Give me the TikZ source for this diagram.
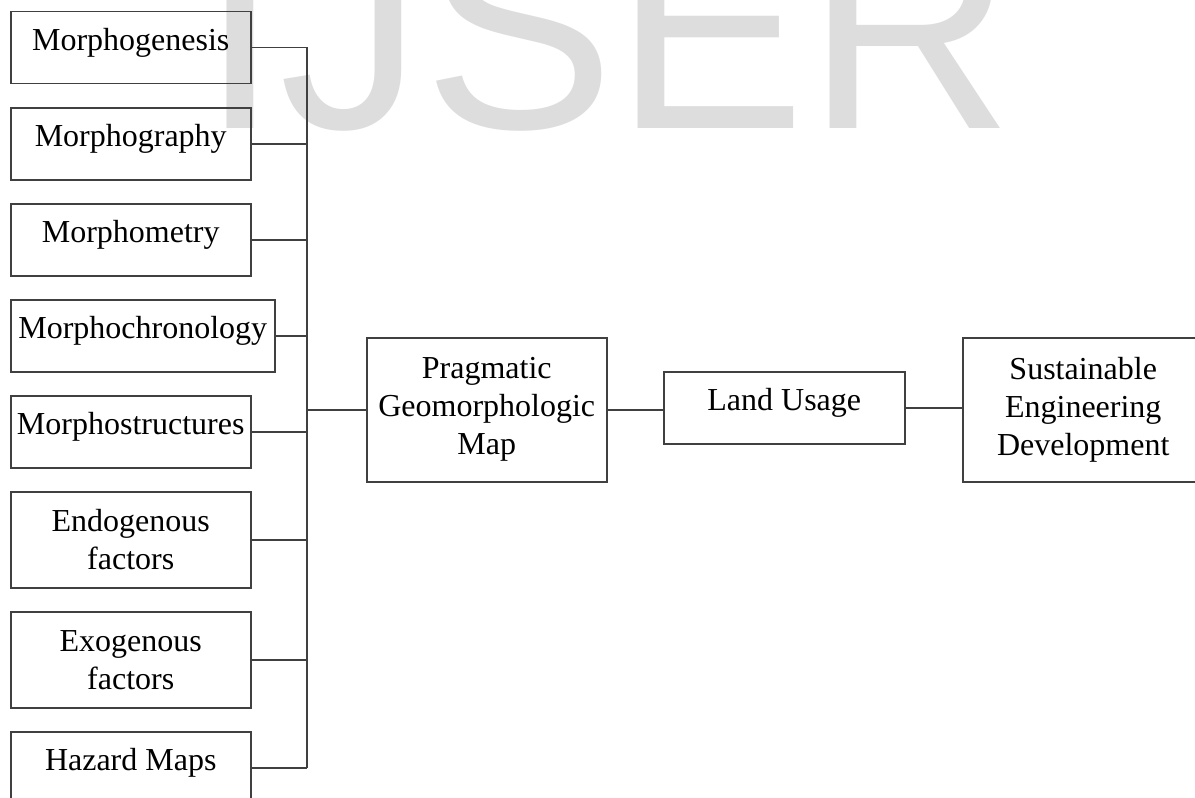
\documentclass[tikz,border=0pt]{standalone}
\usepackage{fontspec}
\setmainfont{Liberation Serif}
\newfontfamily\wmfont{Liberation Sans}
\definecolor{linec}{HTML}{404040}
\definecolor{wmgray}{HTML}{DDDDDD}
\begin{document}
\begin{tikzpicture}[x=1pt,y=-1pt,
  box/.style={draw=linec, line width=1.5pt, inner sep=0pt, minimum width=240pt,
    align=center, anchor=north west, font=\fontsize{32}{38}\selectfont},
  single/.style={box, minimum height=72pt, text height=39pt, text depth=33pt},
  multi/.style={box, minimum height=#1},
  conn/.style={draw=linec, line width=1.5pt}]
\useasboundingbox (0,0) rectangle (1195,798);
\clip (0,0) rectangle (1195,798);
% watermark
\node[anchor=base west, inner sep=0pt, text=wmgray, font=\wmfont\fontsize{287}{287}\selectfont] (wm) at (200,128) {IJSER};
% left boxes
\node[single] (b1) at (10,10.7) {Morphogenesis};
\node[single] (b2) at (10,107) {Morphography};
\node[single] (b3) at (10,203) {Morphometry};
\node[single, minimum width=264pt] (b4) at (10,299) {Morphochronology};
\node[single] (b5) at (10,395) {Morphostructures};
\node[multi=96pt] (b6) at (10,491) {Endogenous\\factors};
\node[multi=96pt] (b7) at (10,611) {Exogenous\\factors};
\node[single] (b8) at (10,731) {Hazard Maps};
% right chain
\node[multi=144pt] (p) at (366,337) {Pragmatic\\Geomorphologic\\Map};
\node[single, minimum width=241pt] (l) at (663,371) {Land Usage};
\node[multi=144pt, minimum width=241pt] (s) at (962,337) {Sustainable\\Engineering\\Development};
% spine
\coordinate (sp) at (307,0);
\draw[conn] (b1.east -| sp) -- (b8.east -| sp);
\foreach \b in {b1,b2,b3,b4,b5,b6,b7,b8}
  \draw[conn] (\b.east) -- (\b.east -| sp);
\draw[conn] (p.west) -- (p.west -| sp);
\draw[conn] (p.east) -- (p.east -| l.west);
\draw[conn] (l.east) -- (l.east -| s.west);
\end{tikzpicture}
\end{document}
